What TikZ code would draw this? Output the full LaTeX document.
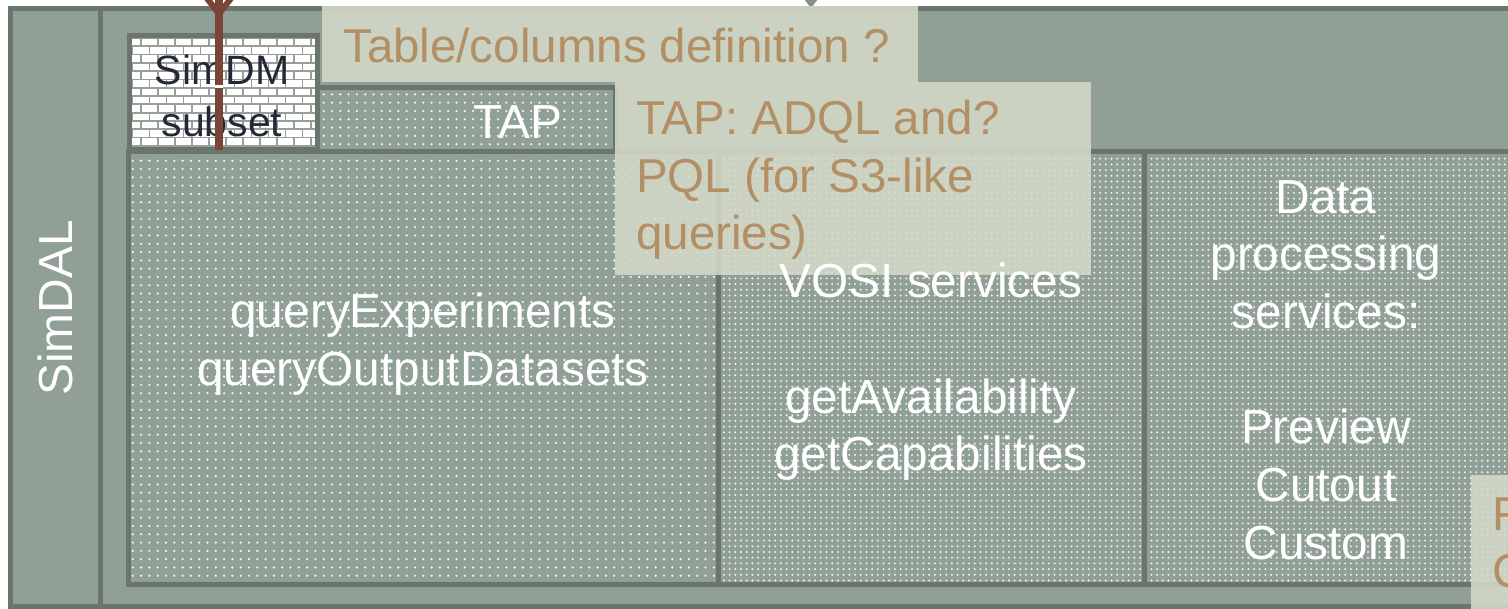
\documentclass[tikz,border=0pt]{standalone}
\usepackage{fontspec}
\setmainfont{Liberation Sans}
\usetikzlibrary{patterns.meta}
\definecolor{bgc}{RGB}{145,160,150}
\definecolor{bdc}{RGB}{106,118,108}
\definecolor{notec}{RGB}{213,217,199}
\definecolor{brownt}{RGB}{178,143,100}
\definecolor{arrowc}{RGB}{122,68,56}
\definecolor{darkt}{RGB}{38,40,56}
\definecolor{mortar}{RGB}{150,160,152}
\definecolor{tipc}{RGB}{128,146,134}
\begin{document}
\begin{tikzpicture}[x=1pt,y=-1pt,
  panel/.style={draw=bdc, line width=5pt, inner sep=0pt, outer sep=0pt, anchor=north west},
  plain/.style={panel, fill=bgc},
  dotsA/.style={panel, preaction={fill=bgc}, pattern={Dots[distance=8.3pt,radius=1.2pt]}, pattern color=white!92!bgc},
  dotsB/.style={panel, preaction={fill=bgc}, pattern={Dots[distance=5.7pt,radius=1.1pt]}, pattern color=white!88!bgc},
  note/.style={fill=notec, fill opacity=0.88, draw=none, inner sep=0pt, outer sep=0pt, anchor=north west},
  wtext/.style={text=white, align=center, inner sep=0pt, font=\fontsize{47.8}{57.7}\selectfont},
  btext/.style={text=brownt, align=left, inner sep=0pt, anchor=west, font=\fontsize{47.5}{57.7}\selectfont},
]
\useasboundingbox (0,0) rectangle (1508,609);
\clip (0,0) rectangle (1508,609);
\fill[white] (0,0) rectangle (1508,609);

% outer frame and divider
\node[plain, minimum width=1530pt, minimum height=598pt] (frame) at (10.5,8.5) {};
\draw[bdc, line width=5pt] (frame.north west -| 100.5,0) coordinate (dtop) -- (frame.south west -| 100.5,0) coordinate (dbot);
\node[wtext, rotate=90] (simdal) at (55,308) {SimDAL};

% row of service boxes
\node[dotsA, minimum width=589.5pt, minimum height=432.5pt] (query) at (128.5,152) {};
\node[dotsB, minimum width=426.5pt, minimum height=432.5pt] (vosi) at (718,152) {};
\node[dotsB, minimum width=400pt, minimum height=432.5pt] (data) at (1144.5,152) {};

% TAP box
\node[dotsA, minimum width=297.5pt, minimum height=64.5pt] (tap) at (317.5,87.5) {};
\node[wtext] (taplbl) at (518,122) {TAP};

% SimDM subset box with bricks
\node[panel, fill=white, minimum width=188pt, minimum height=114.5pt] (simdm) at (129.5,35.5) {};
\begin{scope}
  \clip (132,38) rectangle (315,147.5);
  \foreach \r in {0,...,13} {
    \pgfmathsetmacro{\yy}{38+\r*8.3}
    \draw[mortar, line width=1.8pt] (130,\yy) -- (320,\yy);
    \pgfmathsetmacro{\off}{mod(\r,2)*8.5}
    \foreach \c in {0,...,12} {
      \pgfmathsetmacro{\xx}{124+\off+\c*17}
      \draw[mortar, line width=1.8pt] (\xx,\yy) -- (\xx,\yy+8.3);
    }
  }
\end{scope}
\draw[bdc, line width=5pt] (simdm.north west) rectangle (simdm.south east);
\node[text=darkt, align=center, inner sep=0pt, font=\fontsize{41}{52}\selectfont] (simdmlbl) at (222,96) {SimDM\\subset};

% brown arrow
\coordinate (arrtop) at (219,-4);
\coordinate (arrjoin) at (219,14);
\draw[arrowc, line width=8pt] (simdm.south -| 219,0) -- (arrtop);
\draw[arrowc, line width=6pt, line join=round] (206,-3) -- (arrjoin) -- (232,-3);
\fill[white] (215,85) rectangle (223,88.5);

% small arrow tip at the top
\fill[tipc] (804,-1) -- (818,-1) -- (811,8) -- cycle;

% notes
\node[note, minimum width=596pt, minimum height=76pt] (note1) at (322,6) {};
\node[btext] (note1txt) at (343,46) {Table/columns definition ?};
\node[note, minimum width=476pt, minimum height=193pt] (note2) at (615,82) {};
\node[btext] (note2txt) at (636,180) {TAP: ADQL and?\\PQL (for S3-like\\queries)};
\node[note, minimum width=80pt, minimum height=150pt] (note3) at (1471,475) {};
\node[btext] (note3txt) at (1492,543) {F\\C};

% texts in service boxes (drawn above the notes)
\node[wtext] (querylbl) at (423,344) {queryExperiments\\queryOutputDatasets};
\node[wtext] (vosilbl) at (931,372) {VOSI services\\[57.7pt]getAvailability\\getCapabilities};
\node[wtext] (datalbl) at (1326,370) {Data\\processing\\services:\\[57.7pt]Preview\\Cutout\\Custom};
\end{tikzpicture}
\end{document}
